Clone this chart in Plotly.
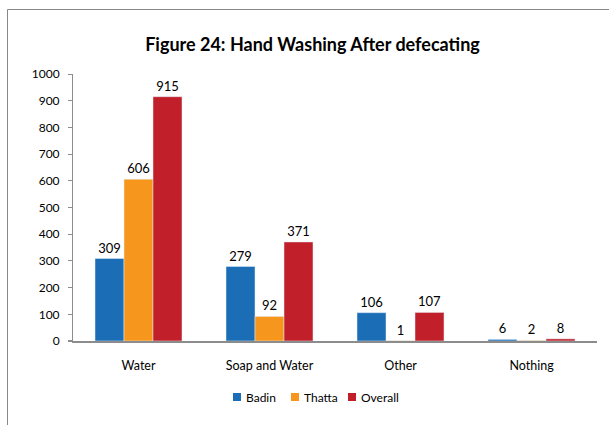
import plotly.graph_objects as go

categories = ["Water", "Soap and Water", "Other", "Nothing"]
badin = [309, 279, 106, 6]
thatta = [606, 92, 1, 2]
overall = [915, 371, 107, 8]
series_names = ["Badin", "Thatta", "Overall"]
colors = ["#1B6DB6", "#F7961D", "#C1202A"]

FONT = "Lato"
W, H = 609, 425
L, R, T, B = 73, 12, 74, 84
pw, ph = W - L - R, H - T - B

fig = go.Figure()
for name, vals, c in zip(series_names, [badin, thatta, overall], colors):
    fig.add_trace(go.Bar(
        x=categories, y=vals, name=name, marker_color=c,
        text=[str(v) for v in vals], textposition="outside",
        textfont=dict(family=FONT, size=13, color="#000"),
        cliponaxis=False, showlegend=False,
    ))

def px_to_paper_x(px):
    return (px - L) / pw

def py_to_paper_y(py):
    return (H - B - py) / ph

shapes = [
    dict(type="line", xref="paper", yref="paper",
         x0=px_to_paper_x(7.5), x1=px_to_paper_x(7.5),
         y0=py_to_paper_y(9.5), y1=py_to_paper_y(440),
         line=dict(color="#888", width=1)),
    dict(type="line", xref="paper", yref="paper",
         x0=px_to_paper_x(7.5), x1=px_to_paper_x(620),
         y0=py_to_paper_y(9.5), y1=py_to_paper_y(9.5),
         line=dict(color="#888", width=1)),
    dict(type="line", xref="paper", yref="paper",
         x0=px_to_paper_x(68), x1=0,
         y0=0, y1=0,
         line=dict(color="#8C8C8C", width=2)),
]
annotations = []
legend_sq_x = [233, 291, 348]
for name, c, sx in zip(series_names, colors, legend_sq_x):
    shapes.append(dict(type="rect", xref="paper", yref="paper",
                       x0=px_to_paper_x(sx), x1=px_to_paper_x(sx + 8),
                       y0=py_to_paper_y(393), y1=py_to_paper_y(401),
                       fillcolor=c, line=dict(width=0)))
    annotations.append(dict(text=name, xref="paper", yref="paper",
                            x=px_to_paper_x(sx + 11), y=py_to_paper_y(397),
                            xanchor="left", yanchor="middle", showarrow=False,
                            font=dict(family=FONT, size=12, color="#000")))

fig.update_layout(
    width=W, height=H,
    margin=dict(l=L, r=R, t=T, b=B),
    paper_bgcolor="white", plot_bgcolor="white",
    barmode="group", bargap=0.336, bargroupgap=0,
    title=dict(text="<b>Figure 24: Hand Washing After defecating</b>",
               x=px_to_paper_x(312.5), xref="paper", xanchor="center",
               y=1 - 45 / H, yanchor="middle",
               font=dict(family=FONT, size=18, color="#000")),
    font=dict(family=FONT, size=12, color="#000"),
    showlegend=False,
    yaxis=dict(range=[0, 1000], dtick=100, showgrid=False, zeroline=False,
               showline=True, linecolor="#8C8C8C", linewidth=1,
               ticks="outside", ticklen=4, tickcolor="#8C8C8C",
               ticklabelstandoff=6,
               tickfont=dict(family=FONT, size=12, color="#000")),
    xaxis=dict(showgrid=False, showline=True, linecolor="#8C8C8C", linewidth=2,
               ticks="", ticklabelstandoff=12,
               tickfont=dict(family=FONT, size=12.5, color="#000")),
    shapes=shapes,
    annotations=annotations,
)

fig.write_html("out.html", config={"displayModeBar": False},
               post_script="document.body.style.margin='0';")
